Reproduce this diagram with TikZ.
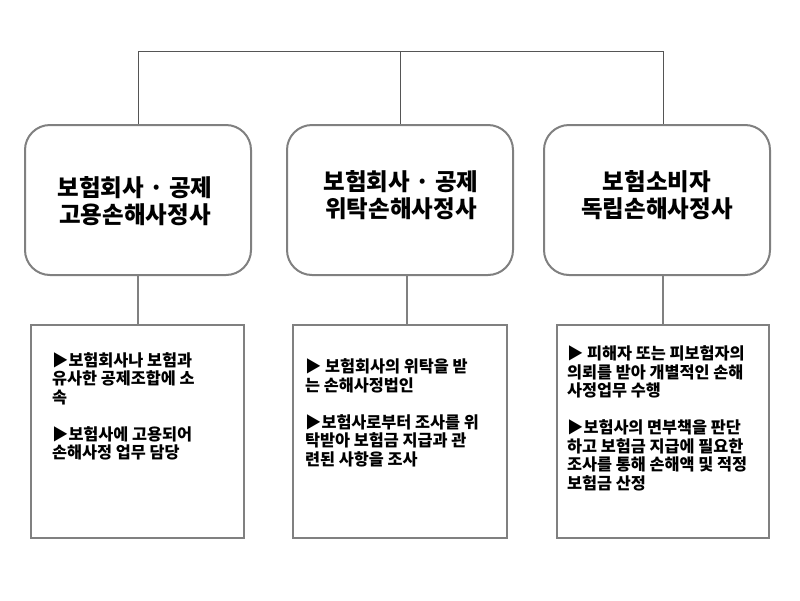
\documentclass[tikz,border=0pt]{standalone}
\usepackage{fontspec}
\newfontfamily\kr{Noto Sans CJK KR}[WordSpace=2.2]
\newfontfamily\krt{Noto Sans CJK KR}
\definecolor{linegray}{HTML}{808080}
\definecolor{topgray}{HTML}{555555}
\tikzset{
  headbox/.style={draw=linegray, line width=2pt, rounded corners=25pt, minimum width=226pt, minimum height=150pt, inner sep=0pt},
  infobox/.style={draw=linegray, line width=2pt, minimum height=213pt, inner sep=0pt},
  headtext/.style={font=\krt\bfseries\fontsize{23.5}{26.5}\selectfont, align=center, anchor=base, inner sep=0pt},
  bodytext/.style={font=\kr\bfseries\fontsize{16.3}{18.5}\selectfont, align=left, anchor=base west, inner sep=0pt},
  topline/.style={draw=topgray, line width=1pt},
  link/.style={draw=linegray, line width=1.5pt}
}
\begin{document}
\begin{tikzpicture}[x=1pt,y=-1pt]
\fill[white] (0,0) rectangle (800,600);
\useasboundingbox (0,0) rectangle (800,600);
% header boxes
\node[headbox] (b1) at (138,200) {};
\node[headbox] (b2) at (400,200) {};
\node[headbox] (b3) at (657,200) {};
% info boxes
\node[infobox, minimum width=213pt] (l1) at (137.5,431.5) {};
\node[infobox, minimum width=214pt] (l2) at (400,431.5) {};
\node[infobox, minimum width=212pt] (l3) at (663,431.5) {};
% top connectors
\coordinate (t1) at (138,51);
\coordinate (t2) at (400,51);
\coordinate (t3) at (663,51);
\draw[topline] (b1.north) -- (t1) -- (t3) -- ([xshift=6pt]b3.north);
\draw[topline] (t2) -- (b2.north);
% lower connectors
\draw[link] (b1.south) -- (b1.south |- l1.north);
\draw[link] ([xshift=7pt]b2.south) -- ([xshift=7pt]b2.south |- l2.north);
\draw[link] ([xshift=6pt]b3.south) -- (l3.north);
% titles (anchor base = last line baseline)
\node[headtext] (h1) at (135,223.5) {보험회사 · 공제\\[0.5pt]고용손해사정사};
\node[headtext] (h2) at (401,217) {보험회사 · 공제\\위탁손해사정사};
\node[headtext] (h3) at (657,217) {보험소비자\\독립손해사정사};
% body texts (anchor base west = last line baseline)
\node[bodytext] (p1) at (52,458.5) {▶보험회사나 보험과\\유사한 공제조합에 소\\속\\[18.5pt]▶보험사에 고용되어\\손해사정 업무 담당};
\node[bodytext] (p2) at (305,465) {▶ 보험회사의 위탁을 받\\는 손해사정법인\\[18.5pt]▶보험사로부터 조사를 위\\탁받아 보험금 지급과 관\\련된 사항을 조사};
\node[bodytext] (p3) at (567,489) {▶ 피해자 또는 피보험자의\\의뢰를 받아 개별적인 손해\\사정업무 수행\\[18.5pt]▶보험사의 면부책을 판단\\하고 보험금 지급에 필요한\\조사를 통해 손해액 및 적정\\보험금 산정};
\end{tikzpicture}
\end{document}
